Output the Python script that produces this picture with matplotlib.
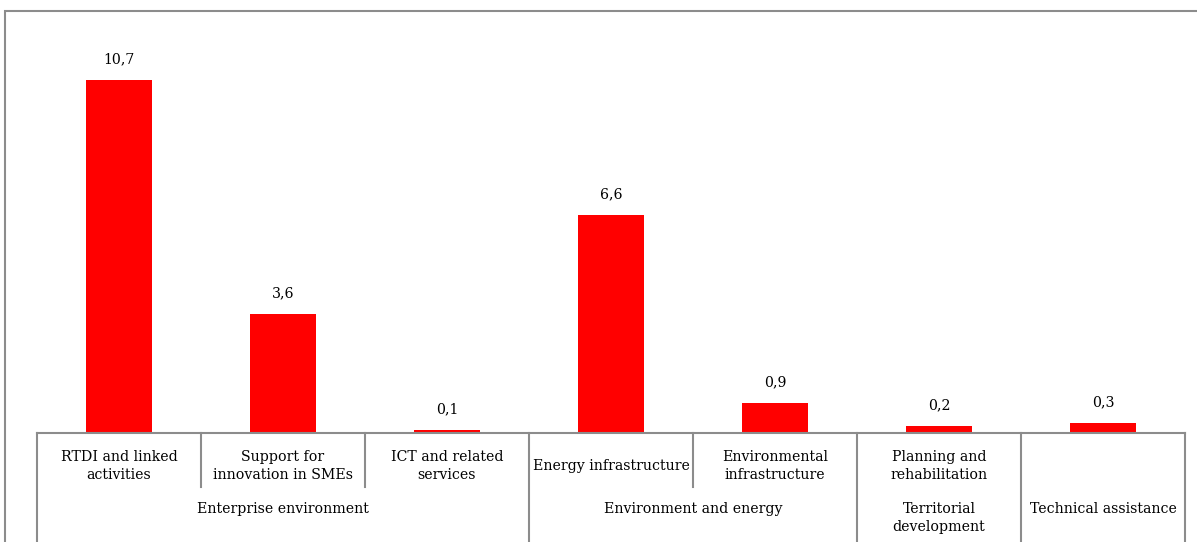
import numpy as np
import matplotlib.pyplot as plt
from matplotlib.patches import Rectangle
from matplotlib.transforms import blended_transform_factory

# Amounts per field of intervention
categories = ['RTDI and linked\nactivities', 'Support for\ninnovation in SMEs',
              'ICT and related\nservices', 'Energy infrastructure',
              'Environmental\ninfrastructure', 'Planning and\nrehabilitation', '']
values = [10.7, 3.6, 0.1, 6.6, 0.9, 0.2, 0.3]

# Priority groups: (label, first category index, last category index)
groups = [('Enterprise environment', 0, 2),
          ('Environment and energy', 3, 4),
          ('Territorial\ndevelopment', 5, 5),
          ('Technical assistance', 6, 6)]


def main():
    plt.rcParams['font.family'] = ['DejaVu Serif']
    W, H = 1197, 542
    fs = 10.2
    fig = plt.figure(figsize=(W / 100, H / 100), dpi=100)

    # chart area frame
    fig.patches.append(Rectangle((5 / W, -0.01), 1.0, (H - 11) / H + 0.01,
                                 transform=fig.transFigure, fill=False,
                                 edgecolor='#8c8c8c', lw=1.5))

    ax = fig.add_axes([37 / W, (H - 433) / H, (1185 - 37) / W, 422 / H])
    x = np.arange(len(values))
    ax.bar(x, values, width=0.4, color='#ff0000')
    for xi, v in zip(x, values):
        ax.annotate(f'{v:.1f}'.replace('.', ','), (xi, v), xytext=(0, 10),
                    textcoords='offset points', ha='center', va='bottom',
                    fontsize=fs)

    ax.set_xlim(-0.5, len(values) - 0.5)
    ax.set_ylim(0, 12.8)
    for s in ['top', 'right', 'left']:
        ax.spines[s].set_visible(False)
    ax.spines['bottom'].set_color('#8c8c8c')
    ax.spines['bottom'].set_linewidth(1.5)
    ax.set_xticks([])
    ax.set_yticks([])

    tr = blended_transform_factory(ax.transData, ax.transAxes)
    px = 1 / 422
    group_edges = {g[1] - 0.5 for g in groups} | {groups[-1][2] + 0.5}

    # separators between categories; longer ones between groups
    for edge in np.arange(-0.5, len(values)):
        depth = -115 * px if edge in group_edges else -54 * px
        ax.plot([edge, edge], [0, depth], transform=tr, color='#8c8c8c',
                lw=1.5, clip_on=False)

    for xi, label in zip(x, categories):
        ax.text(xi, -33 * px, label, transform=tr, ha='center', va='center',
                fontsize=fs, linespacing=1.45)

    for label, first, last in groups:
        ax.text((first + last) / 2, -76 * px - (9 * px if '\n' in label else 0),
                label, transform=tr, ha='center', va='center', fontsize=fs,
                linespacing=1.45)

    fig.savefig('out.png', dpi=100)


if __name__ == '__main__':
    main()
